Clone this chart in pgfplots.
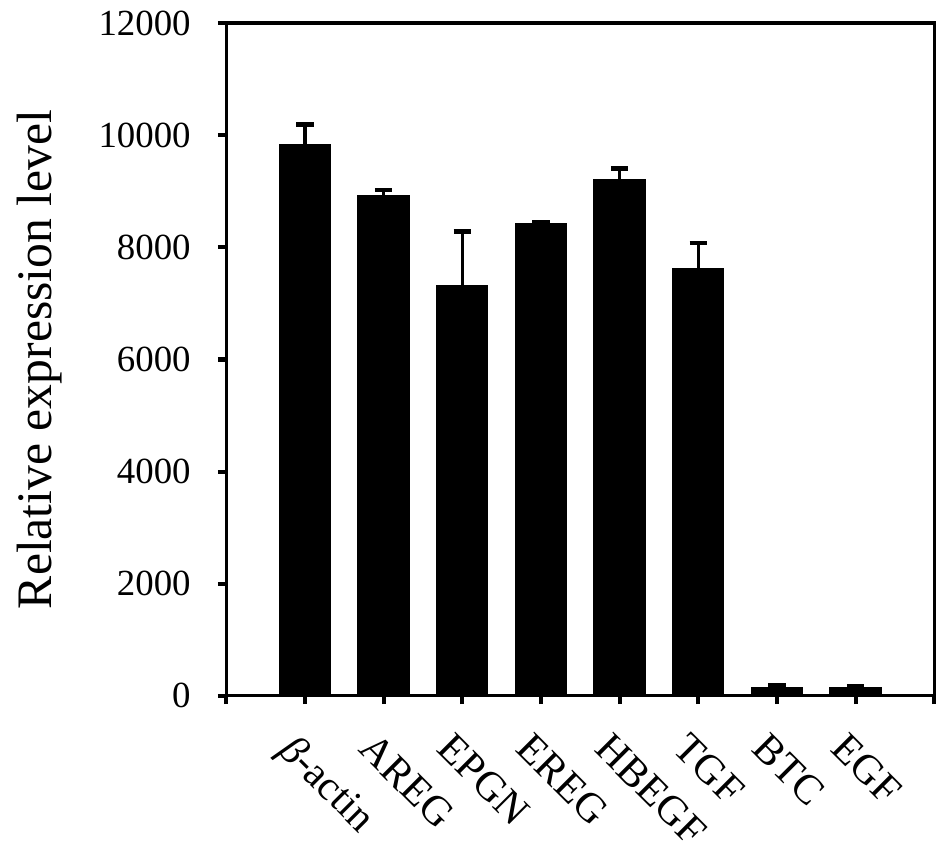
\documentclass[border={2pt 4.5pt 2.7pt 0pt}]{standalone}
\usepackage{fontspec}
\setmainfont{Liberation Serif}
\usepackage{pgfplots}
\pgfplotsset{compat=1.18}
\pgfplotstableread{
x  y     e
1  9834  358
2  8912  107
3  7320  966
4  8411  30
5  9208  197
6  7606  476
7  138   48
8  150   25
}\expr
\begin{document}
\begin{tikzpicture}
\begin{axis}[
  scale only axis,
  width=221pt, height=210pt,
  xmin=0, xmax=9, ymin=0, ymax=12000,
  xtick={0,1,2,3,4,5,6,7,8,9},
  xticklabels={,{\itshape β}-actin,AREG,EPGN,EREG,HBEGF,TGF,BTC,EGF,},
  ytick={0,2000,4000,6000,8000,10000,12000},
  scaled y ticks=false,
  /pgf/number format/assume math mode=true,
  /pgf/number format/1000 sep={},
  tick pos=left,
  tick align=outside,
  major tick length=2.6pt,
  every tick/.style={black, line width=1.3pt},
  axis line style={line width=1pt},
  tick label style={font=\fontsize{11.5}{13}\selectfont},
  yticklabel style={xshift=-5pt},
  xticklabel style={rotate=-45, anchor=north west, inner sep=1pt,
    xshift=3.3pt, yshift=-6.3pt, font=\fontsize{13}{15}\selectfont},
  ylabel={Relative expression level},
  ylabel style={font=\fontsize{15.5}{18}\selectfont, yshift=4.5pt},
]
\addplot[ybar, bar width=0.64, fill=black, draw=black, line width=0.6pt,
  error bars/.cd, y dir=plus, y explicit,
  error bar style={line width=1pt},
  error mark options={rotate=90, line width=1.4pt, mark size=2.7pt}]
  table[x=x, y=y, y error=e] {\expr};
\end{axis}
\end{tikzpicture}
\end{document}
